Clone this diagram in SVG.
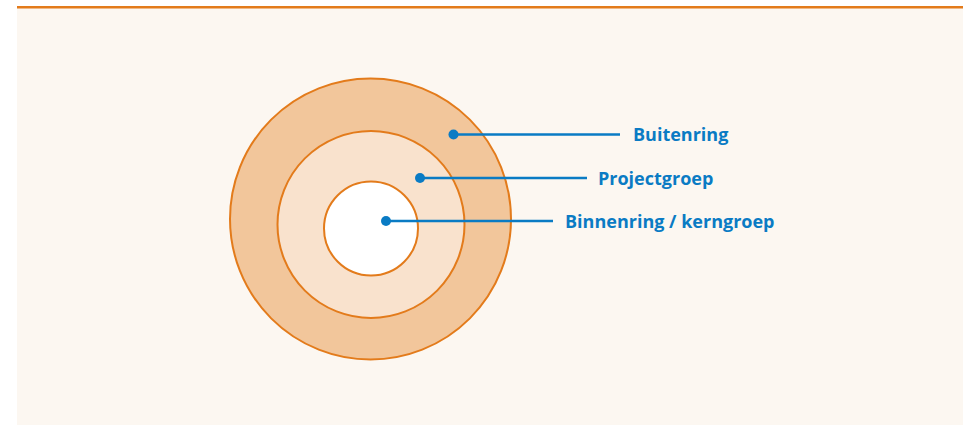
<svg xmlns="http://www.w3.org/2000/svg" width="966" height="425" viewBox="0 0 966 425">
<style>
.ring{stroke:#e37b1b;stroke-width:2}
.lbl{font-family:"Open Sans","Liberation Sans",sans-serif;font-weight:bold;font-size:18px;fill:#0a7bc4}
.ln{stroke:#0a7bc4;stroke-width:2.5;fill:none}
.dot{fill:#0a7bc4}
</style>
<rect x="17" y="7" width="946" height="418" fill="#fcf7f1"/>
<rect x="17" y="6" width="946" height="2.5" fill="#e37b1b"/>
<g id="buitenring"><circle class="ring" cx="370.5" cy="219" r="140.5" fill="#f2c69b"/></g>
<g id="projectgroep"><circle class="ring" cx="371" cy="224.5" r="93.5" fill="#f9e2cd"/></g>
<g id="binnenring"><circle class="ring" cx="371" cy="228.5" r="47" fill="#ffffff"/></g>
<g id="connectors">
<line class="ln" x1="453.5" y1="134.5" x2="620" y2="134.5"/><circle class="dot" cx="453.5" cy="134.5" r="5"/>
<line class="ln" x1="420" y1="178" x2="587" y2="178"/><circle class="dot" cx="420" cy="178" r="5"/>
<line class="ln" x1="386" y1="221" x2="553" y2="221"/><circle class="dot" cx="386" cy="221" r="5"/>
</g>
<g id="labels">
<text class="lbl" x="633" y="141">Buitenring</text>
<text class="lbl" x="598" y="184.5">Projectgroep</text>
<text class="lbl" x="565" y="227.5">Binnenring / kerngroep</text>
</g>
</svg>
